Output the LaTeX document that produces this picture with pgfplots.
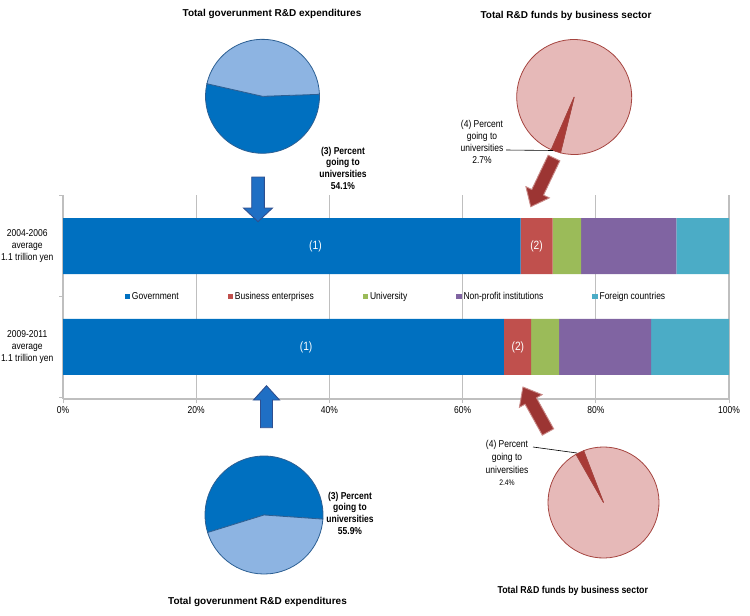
\documentclass[border=0pt]{standalone}
\usepackage{pgfplots}
\pgfplotsset{compat=1.18}
\usepackage{fontspec}
\setmainfont{Liberation Sans}[FakeStretch=0.85]
\newfontfamily\titlefont{Liberation Sans}
\newfontfamily\titlenarrow{Liberation Sans}[FakeStretch=0.88]

\definecolor{gov}{HTML}{0070C0}
\definecolor{bus}{HTML}{C0504D}
\definecolor{uni}{HTML}{9BBB59}
\definecolor{npo}{HTML}{8064A2}
\definecolor{frn}{HTML}{4BACC6}
\definecolor{gridgray}{HTML}{BFBFBF}
\definecolor{pielight}{HTML}{8DB4E2}
\definecolor{pieedge}{HTML}{2C5F93}
\definecolor{pink}{HTML}{E6B9B8}
\definecolor{pinkedge}{HTML}{A5443F}
\definecolor{wedge}{HTML}{A83A36}
\definecolor{arrblue}{HTML}{1F6FC4}
\definecolor{arrblueedge}{HTML}{2E4F8F}
\definecolor{arrred}{HTML}{9C3533}
\definecolor{arrrededge}{HTML}{C98A88}

% share of each total going to universities (%)
\def\govA{54.1}
\def\govB{55.9}
\def\busA{2.7}
\def\busB{2.4}

% block arrow: tail x, tail y (px), angle, length, shaft half, head half, head length, fill, draw
\newcommand{\blockarrow}[9]{%
  \pgfmathsetmacro\hb{#4-#7}%
  \begin{scope}[shift={(#1pt,-#2pt)}, rotate=#3]
    \filldraw[fill=#8, draw=#9, line width=0.9pt, line join=miter]
      (0pt,-#5pt) -- (\hb pt,-#5pt) -- (\hb pt,-#6pt) -- (#4pt,0pt)
      -- (\hb pt,#6pt) -- (\hb pt,#5pt) -- (0pt,#5pt) -- cycle;
  \end{scope}}

\newcommand{\pieaxis}[3]{% centre x, centre y (px), diameter
  at={(#1pt,-#2pt)}, anchor=center, width=#3pt, height=#3pt,
  scale only axis, hide axis, clip=false,
  xmin=-1, xmax=1, ymin=-1, ymax=1}

\begin{document}
\begin{tikzpicture}
\path[use as bounding box] (0pt,0pt) rectangle (750pt,-616pt);

\begin{axis}[
  at={(63pt,-399pt)}, anchor=south west,
  width=666pt, height=204pt, scale only axis,
  xbar stacked, bar width=56pt,
  xmin=0, xmax=100, ymin=-0.515, ymax=1.505,
  axis x line*=bottom, axis y line*=left,
  x axis line style={-}, y axis line style={-},
  axis line style={draw=gridgray, line width=1.2pt},
  xtick={0,20,40,60,80,100},
  xticklabels={0\%,20\%,40\%,60\%,80\%,100\%},
  xmajorgrids, grid style={draw=gridgray, line width=1.2pt},
  tick align=outside, major tick length=4pt,
  tick style={draw=gridgray, line width=1pt},
  ytick={-0.5,0.5,1.5}, yticklabels={,,},
  extra y ticks={0,1},
  extra y tick labels={{2009-2011\\average\\1.1 trillion yen},{2004-2006\\average\\1.1 trillion yen}},
  extra y tick style={tick style={draw=none},
    yticklabel style={align=center, font=\fontsize{10}{12.3}\selectfont, xshift=-2pt}},
  xticklabel style={font=\fontsize{10}{12}\selectfont},
  legend style={at={(axis cs:50,0.5)}, anchor=center, draw=none, fill=none,
    font=\fontsize{10}{12}\selectfont, legend columns=5,
    /tikz/every even column/.append style={column sep=47pt}},
  legend image code/.code={\fill[#1] (0pt,-2.6pt) rectangle (5.2pt,2.6pt);},
]
\addplot[fill=gov, draw=none] coordinates {(66.2,0) (68.7,1)};
\addplot[fill=bus, draw=none] coordinates {(4.1,0) (4.8,1)};
\addplot[fill=uni, draw=none] coordinates {(4.2,0) (4.3,1)};
\addplot[fill=npo, draw=none] coordinates {(13.8,0) (14.3,1)};
\addplot[fill=frn, draw=none] coordinates {(11.7,0) (7.9,1)};
\legend{Government,Business enterprises,University,Non-profit institutions,Foreign countries}
\coordinate (g1) at (axis cs:37.9,1);
\coordinate (g0) at (axis cs:36.5,0);
\coordinate (b1) at (axis cs:71.1,1);
\coordinate (b0) at (axis cs:68.3,0);
\end{axis}
\foreach \c/\t in {g1/(1),g0/(1),b1/(2),b0/(2)}
  \node[text=white, font=\fontsize{12}{14}\selectfont] at (\c) {\t};

% top left pie: government R&D, 2004-2006
\begin{axis}[\pieaxis{262.5}{96.3}{114}]
\pgfmathsetmacro\ps{2}
\pgfmathsetmacro\pe{\ps-3.6*\govA}
\pgfmathsetmacro\pf{\pe+360}
\filldraw[fill=gov, draw=pieedge, line width=0.8pt] (axis cs:0,0) -- (axis cs:{cos(\ps)},{sin(\ps)}) arc[start angle=\ps, end angle=\pe, radius=57pt] -- cycle;
\filldraw[fill=pielight, draw=pieedge, line width=0.8pt] (axis cs:0,0) -- (axis cs:{cos(\ps)},{sin(\ps)}) arc[start angle=\ps, end angle=\pf, radius=57pt] -- cycle;
\end{axis}

% top right pie: business R&D, 2004-2006
\begin{axis}[\pieaxis{574.2}{97}{115}]
\pgfmathsetmacro\pe{256.2}
\pgfmathsetmacro\ps{\pe-3.6*\busA}
\pgfmathsetmacro\pf{\ps+360}
\filldraw[fill=pink, draw=pinkedge, line width=0.8pt] (axis cs:0,0) -- (axis cs:{cos(\pe)},{sin(\pe)}) arc[start angle=\pe, end angle=\pf, radius=57.5pt] -- cycle;
\filldraw[fill=wedge, draw=pinkedge, line width=0.6pt] (axis cs:0,0) -- (axis cs:{cos(\ps)},{sin(\ps)}) arc[start angle=\ps, end angle=\pe, radius=57.5pt] -- cycle;
\end{axis}

% bottom left pie: government R&D, 2009-2011
\begin{axis}[\pieaxis{264}{515}{118}]
\pgfmathsetmacro\ps{-4}
\pgfmathsetmacro\pe{\ps+3.6*\govB}
\pgfmathsetmacro\pf{\ps+360}
\filldraw[fill=gov, draw=pieedge, line width=0.8pt] (axis cs:0,0) -- (axis cs:{cos(\ps)},{sin(\ps)}) arc[start angle=\ps, end angle=\pe, radius=59pt] -- cycle;
\filldraw[fill=pielight, draw=pieedge, line width=0.8pt] (axis cs:0,0) -- (axis cs:{cos(\pe)},{sin(\pe)}) arc[start angle=\pe, end angle=\pf, radius=59pt] -- cycle;
\end{axis}

% bottom right pie: business R&D, 2009-2011
\begin{axis}[\pieaxis{603.5}{502.5}{111}]
\pgfmathsetmacro\ps{111}
\pgfmathsetmacro\pe{\ps+3.6*\busB}
\pgfmathsetmacro\pf{\ps+360}
\filldraw[fill=pink, draw=pinkedge, line width=0.8pt] (axis cs:0,0) -- (axis cs:{cos(\pe)},{sin(\pe)}) arc[start angle=\pe, end angle=\pf, radius=55.5pt] -- cycle;
\filldraw[fill=wedge, draw=pinkedge, line width=0.6pt] (axis cs:0,0) -- (axis cs:{cos(\ps)},{sin(\ps)}) arc[start angle=\ps, end angle=\pe, radius=55.5pt] -- cycle;
\end{axis}

% arrows
\blockarrow{258}{177}{-90}{44.7}{6.3}{14.5}{13.7}{arrblue}{arrblueedge}
\blockarrow{266.5}{427.7}{90}{42}{6}{13}{14.3}{arrblue}{arrblueedge}
\blockarrow{554}{158}{244.5}{54}{6.5}{13}{16}{arrred}{arrrededge}
\blockarrow{548}{432}{119.1}{51.5}{6.5}{13}{16}{arrred}{arrrededge}

% titles
\node[font=\titlefont\bfseries\fontsize{10}{12}\selectfont] at (272pt,-13.5pt) {Total goverunment R\&D expenditures};
\node[font=\titlefont\bfseries\fontsize{10}{12}\selectfont] at (566pt,-15.5pt) {Total R\&D funds by business sector};
\node[font=\titlefont\bfseries\fontsize{10}{12}\selectfont] at (257.5pt,-601.5pt) {Total goverunment R\&D expenditures};
\node[font=\titlenarrow\bfseries\fontsize{10}{12}\selectfont] at (572.8pt,-590.5pt) {Total R\&D funds by business sector};

% pie annotations
\node[align=center, font=\bfseries\fontsize{10}{11.7}\selectfont] at (343pt,-168.2pt) {(3) Percent\\going to\\universities\\54.1\%};
\node[align=center, font=\fontsize{10}{12}\selectfont] at (482pt,-142.2pt) {(4) Percent\\going to\\universities\\2.7\%};
\draw[black, line width=0.6pt] (506pt,-150pt) -- (553pt,-150.5pt);
\node[align=center, font=\bfseries\fontsize{10}{11.7}\selectfont] at (350pt,-513.2pt) {(3) Percent\\going to\\universities\\55.9\%};
\node[align=center, font=\fontsize{10}{12.7}\selectfont] at (507pt,-463.3pt) {(4) Percent\\going to\\universities\\{\fontsize{8}{10}\selectfont 2.4\%}};
\draw[black, line width=0.6pt] (533pt,-447pt) -- (577pt,-453pt);
\end{tikzpicture}
\end{document}
